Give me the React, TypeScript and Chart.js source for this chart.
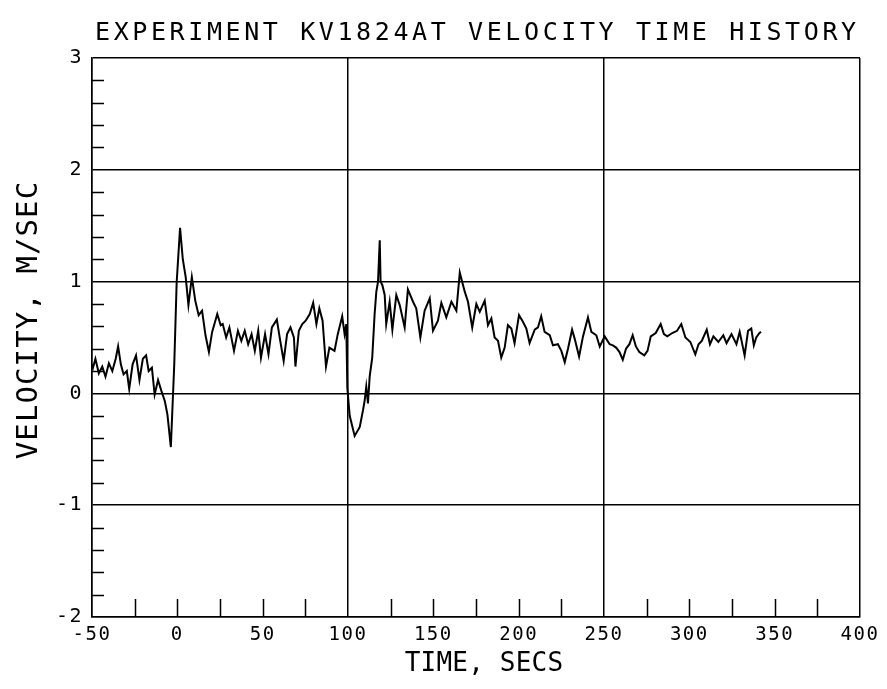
import React, { useEffect, useRef } from "react";
import { Chart, registerables } from "chart.js";

Chart.register(...registerables);

const chartTitle = "EXPERIMENT KV1824AT VELOCITY TIME HISTORY";
const xAxisTitle = "TIME, SECS";
const yAxisTitle = "VELOCITY, M/SEC";

const xTickValues = [-50, 0, 50, 100, 150, 200, 250, 300, 350, 400];
const xGridValues = [-50, 100, 250, 400];
const yTickValues = [-2, -1, 0, 1, 2, 3];

const times = [
  -50, -49.4, -48, -46, -44, -42.1, -40.1, -38.1, -36.1, -34.7, -33.1, -31.5, -29.6, -28.2, -26.2, -24.2,
  -22.2, -20.2, -18.3, -16.8, -14.9, -13.3, -11.3, -9.3, -7.3, -5.8, -3.8, -1.8, -0.4, 1.6, 3.2, 4.9,
  6.5, 8.5, 10.5, 12.5, 14.5, 16.5, 18.5, 20.4, 23.4, 25.4, 26.6, 28.6, 30.5, 33.2, 35.5, 37.5,
  39.5, 41.5, 43.5, 45.4, 47.4, 49, 51.4, 53.4, 55.4, 58.3, 60.3, 62.3, 64.3, 66.3, 68.3, 69.2,
  71.2, 73.2, 75.2, 77.6, 79.6, 81.5, 83.2, 85.1, 87.1, 89.1, 92.1, 94, 96.6, 98, 99, 99.6,
  101, 103.9, 106.9, 108.8, 109.8, 110.7, 111.7, 112.7, 114.2, 115.6, 116.6, 117.6, 118.6, 119.1, 120.1, 121.5,
  122.4, 124.4, 126, 128.3, 130.3, 133.2, 135.1, 138.1, 140, 142.4, 144.9, 147.9, 149.8, 152.7, 154.7, 157.6,
  160.6, 163.5, 165.5, 168.4, 170.3, 172.8, 175.2, 177.2, 180.1, 182, 184, 185.9, 187.9, 189.8, 191.8, 193.7,
  195.7, 197.6, 200.2, 202.5, 204.5, 206.4, 209.4, 211.3, 213.2, 215.2, 218.2, 220.1, 223, 225, 227, 228.9,
  231.3, 232.8, 235.4, 237.7, 240.6, 242.6, 245.5, 247.5, 250.4, 253.3, 255.2, 257.1, 259.1, 261, 262.9, 264.9,
  266.8, 268.7, 270.7, 273.6, 275.5, 277.4, 280.3, 283.2, 285.1, 287.1, 290, 292.8, 295.3, 297.7, 300.6, 303.5,
  305.4, 307.3, 310.2, 312.1, 314.1, 317, 319.9, 321.8, 324.7, 327.6, 329.5, 332.4, 334.4, 336.3, 337.8, 339.2,
  341.1, 342,
];

const velocity = [
  0.26, 0.23, 0.31, 0.18, 0.24, 0.15, 0.27, 0.2, 0.31, 0.42, 0.26, 0.17, 0.2, 0.04, 0.26, 0.34,
  0.12, 0.31, 0.34, 0.2, 0.23, -0.01, 0.12, 0.02, -0.07, -0.19, -0.48, 0.26, 0.99, 1.48, 1.2, 1.04,
  0.79, 1.04, 0.83, 0.7, 0.74, 0.52, 0.37, 0.55, 0.71, 0.61, 0.62, 0.5, 0.59, 0.38, 0.56, 0.47,
  0.56, 0.44, 0.53, 0.38, 0.56, 0.32, 0.53, 0.35, 0.59, 0.66, 0.47, 0.29, 0.53, 0.59, 0.5, 0.24,
  0.56, 0.62, 0.65, 0.71, 0.81, 0.62, 0.76, 0.65, 0.24, 0.41, 0.38, 0.53, 0.69, 0.53, 0.62, 0.05,
  -0.2, -0.38, -0.3, -0.15, -0.06, 0.06, -0.09, 0.15, 0.32, 0.71, 0.91, 1.0, 1.37, 1.0, 0.97, 0.88,
  0.62, 0.82, 0.57, 0.88, 0.79, 0.59, 0.93, 0.82, 0.76, 0.5, 0.74, 0.85, 0.56, 0.65, 0.81, 0.68,
  0.82, 0.74, 1.08, 0.91, 0.82, 0.59, 0.8, 0.73, 0.83, 0.61, 0.67, 0.5, 0.47, 0.32, 0.41, 0.61,
  0.58, 0.45, 0.7, 0.64, 0.58, 0.45, 0.57, 0.59, 0.69, 0.55, 0.52, 0.43, 0.44, 0.38, 0.28, 0.4,
  0.57, 0.49, 0.33, 0.51, 0.68, 0.55, 0.52, 0.42, 0.51, 0.44, 0.43, 0.41, 0.37, 0.3, 0.4, 0.44,
  0.52, 0.42, 0.37, 0.34, 0.38, 0.51, 0.54, 0.62, 0.53, 0.51, 0.54, 0.56, 0.62, 0.5, 0.46, 0.35,
  0.44, 0.47, 0.57, 0.44, 0.51, 0.46, 0.52, 0.45, 0.53, 0.44, 0.55, 0.34, 0.56, 0.58, 0.43, 0.5,
  0.54, 0.55,
];

const FONT = '"DejaVu Sans Mono", monospace';

const isInt = (v: number) => Math.abs(v - Math.round(v)) < 1e-6;
const isXGrid = (v: number) => xGridValues.some((g) => Math.abs(g - v) < 1e-6);
const isYGrid = (v: number) => isInt(v) && yTickValues.includes(Math.round(v));

const plotterPlugin = {
  id: "plotter",
  beforeDraw(chart: any) {
    chart.ctx.letterSpacing = "1.5px";
  },
  afterDraw(chart: any) {
    const { ctx, chartArea, scales } = chart;
    const xs = scales.x;
    const ys = scales.y;
    ctx.save();
    ctx.strokeStyle = "#000";
    ctx.lineWidth = 1.5;
    ctx.beginPath();
    xs.ticks.forEach((t: any) => {
      if (!isXGrid(t.value)) {
        const px = Math.round(xs.getPixelForValue(t.value)) + 0.5;
        ctx.moveTo(px, chartArea.bottom);
        ctx.lineTo(px, chartArea.bottom - 18);
      }
    });
    ys.ticks.forEach((t: any) => {
      if (!isYGrid(t.value)) {
        const py = Math.round(ys.getPixelForValue(t.value)) + 0.5;
        ctx.moveTo(chartArea.left, py);
        ctx.lineTo(chartArea.left + 12, py);
      }
    });
    ctx.stroke();

    ctx.fillStyle = "#000";
    ctx.textBaseline = "alphabetic";
    // main title
    ctx.letterSpacing = "3.6px";
    ctx.font = `25px ${FONT}`;
    ctx.textAlign = "left";
    ctx.fillText(chartTitle, 95, 40);
    // x axis title
    ctx.letterSpacing = "0.2px";
    ctx.font = `26px ${FONT}`;
    ctx.textAlign = "center";
    ctx.fillText(xAxisTitle, 484, 671);
    // y axis title
    ctx.letterSpacing = "1.1px";
    ctx.font = `29px ${FONT}`;
    ctx.translate(37, 320);
    ctx.rotate(-Math.PI / 2);
    ctx.textAlign = "center";
    ctx.fillText(yAxisTitle, 0, 0);
    ctx.restore();
    ctx.letterSpacing = "0px";
  },
};

export default function App() {
  const canvasRef = useRef<HTMLCanvasElement | null>(null);

  useEffect(() => {
    if (!canvasRef.current) return;
    const points = times.map((t, i) => ({ x: t, y: velocity[i] }));
    const chart = new Chart(canvasRef.current, {
      type: "line",
      data: {
        datasets: [
          {
            data: points,
            borderColor: "#000",
            borderWidth: 2,
            pointRadius: 0,
            tension: 0,
            fill: false,
          },
        ],
      },
      options: {
        animation: false,
        responsive: false,
        devicePixelRatio: 1,
        layout: { padding: { top: 58, right: 27, left: 0, bottom: 0 } },
        plugins: {
          legend: { display: false },
          tooltip: { enabled: false },
          title: { display: false },
        },
        scales: {
          x: {
            type: "linear",
            min: -50,
            max: 400,
            afterFit: (s: any) => {
              s.height = 72;
            },
            border: { display: true, color: "#000", width: 1.5 },
            grid: {
              drawTicks: false,
              lineWidth: 1.5,
              color: (c: any) => (c.tick && isXGrid(c.tick.value) ? "#000" : "rgba(0,0,0,0)"),
            },
            ticks: {
              stepSize: 25,
              autoSkip: false,
              maxRotation: 0,
              padding: 7,
              color: "#000",
              font: { family: FONT, size: 19 },
              callback: (v: any) => (xTickValues.some((x) => Math.abs(x - v) < 1e-6) ? String(Math.round(v)) : ""),
            },
          },
          y: {
            type: "linear",
            min: -2,
            max: 3,
            afterFit: (s: any) => {
              s.width = 92;
            },
            border: { display: true, color: "#000", width: 1.5 },
            grid: {
              drawTicks: false,
              lineWidth: 1.5,
              color: (c: any) => (c.tick && isYGrid(c.tick.value) ? "#000" : "rgba(0,0,0,0)"),
            },
            ticks: {
              stepSize: 0.2,
              autoSkip: false,
              padding: 9,
              color: "#000",
              font: { family: FONT, size: 20 },
              callback: (v: any) => (isYGrid(v) ? String(Math.round(v)) : ""),
            },
          },
        },
      },
      plugins: [plotterPlugin],
    });
    return () => chart.destroy();
  }, []);

  return (
    <div style={{ position: "absolute", left: 0, top: 0, width: 887, height: 689, background: "#fff" }}>
      <canvas ref={canvasRef} width={887} height={689} style={{ display: "block" }} />
    </div>
  );
}
